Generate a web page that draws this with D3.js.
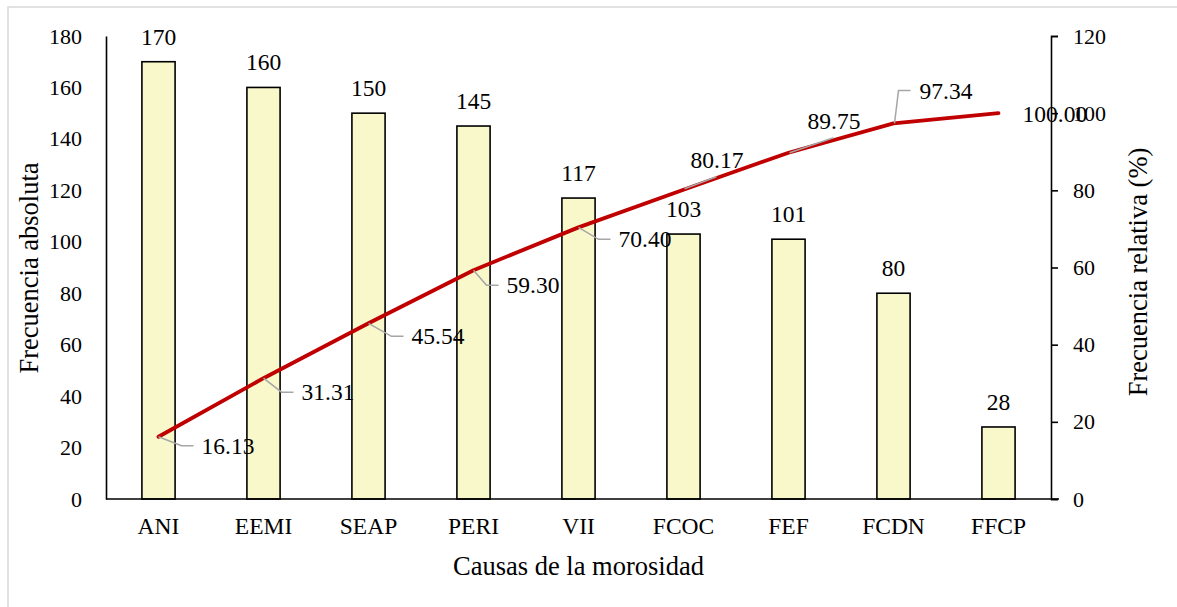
<!DOCTYPE html>
<html>
<head>
<meta charset="utf-8">
<script src="https://cdn.jsdelivr.net/npm/d3@7"></script>
<style>
  body { margin: 0; background: #fff; }
  svg text { font-family: "Liberation Serif", "Times New Roman", serif; fill: #000; }
</style>
</head>
<body>
<svg id="pareto" width="1177" height="607"></svg>
<script>
const causes = ["ANI", "EEMI", "SEAP", "PERI", "VII", "FCOC", "FEF", "FCDN", "FFCP"];
const counts = [170, 160, 150, 145, 117, 103, 101, 80, 28];
const cumPercent = [16.13, 31.31, 45.54, 59.30, 70.40, 80.17, 89.75, 97.34, 100.00];
const leftTicks = [0, 20, 40, 60, 80, 100, 120, 140, 160, 180];
const rightTicks = [0, 20, 40, 60, 80, 100, 120];

// where each cumulative label sits relative to its point (text start, baseline)
const labelOffsets = [
    [43, 17], [38, 22], [43, 21], [33, 23], [40, 20],
    [7, -22], [19, -24], [26, -24], [24, 9]
];

const svg = d3.select("#pareto");
const m = { left: 106, right: 1051, top: 36, bottom: 499 };

// light frame around the chart
svg.append("rect")
    .attr("x", 8).attr("y", 7)
    .attr("width", 1180).attr("height", 620)
    .attr("fill", "none")
    .attr("stroke", "#d9d9d9")
    .attr("stroke-width", 1.5);

const x = d3.scaleBand()
    .domain(causes)
    .range([m.left, m.right])
    .paddingInner(0.684)
    .paddingOuter(0.342);

const yLeft = d3.scaleLinear().domain([0, 180]).range([m.bottom, m.top]);
const yRight = d3.scaleLinear().domain([0, 120]).range([m.bottom, m.top]);

// bars
svg.append("g")
    .selectAll("rect")
    .data(counts)
    .enter().append("rect")
    .attr("x", (d, i) => x(causes[i]))
    .attr("y", d => yLeft(d))
    .attr("width", x.bandwidth())
    .attr("height", d => yLeft(0) - yLeft(d))
    .attr("fill", "#f8f8cb")
    .attr("stroke", "#000")
    .attr("stroke-width", 1.6);

svg.append("g")
    .selectAll("text")
    .data(counts)
    .enter().append("text")
    .attr("x", (d, i) => x(causes[i]) + x.bandwidth() / 2)
    .attr("y", d => yLeft(d) - 17)
    .attr("text-anchor", "middle")
    .style("font-size", "23.5px")
    .text(d => d);

// left axis (line only, no tick marks)
const leftAxis = svg.append("g")
    .attr("transform", `translate(${m.left},0)`)
    .call(d3.axisLeft(yLeft).tickValues(leftTicks).tickSize(0).tickPadding(24));
leftAxis.select(".domain").attr("stroke", "#000").attr("stroke-width", 1.6);
leftAxis.selectAll("text").style("font-size", "22px");

// right axis
const rightAxis = svg.append("g")
    .attr("transform", `translate(${m.right},0)`)
    .call(d3.axisRight(yRight).tickValues(rightTicks).tickSizeInner(7).tickSizeOuter(7).tickPadding(15));
rightAxis.select(".domain").attr("stroke", "#000").attr("stroke-width", 1.6);
rightAxis.selectAll("line").attr("stroke", "#000").attr("stroke-width", 1.6);
rightAxis.selectAll("text").style("font-size", "22px");

// category axis
const xAxis = svg.append("g")
    .attr("transform", `translate(0,${m.bottom})`)
    .call(d3.axisBottom(x).tickSize(0));
xAxis.select(".domain").attr("stroke", "#000").attr("stroke-width", 1.6)
    .attr("d", `M${m.left},0H${m.right + 8}`);
xAxis.selectAll("text")
    .attr("y", 35).attr("dy", null)
    .style("font-size", "23.5px");

// cumulative line
const pts = cumPercent.map((d, i) => [x(causes[i]) + x.bandwidth() / 2, yRight(d)]);

svg.append("path")
    .datum(pts)
    .attr("fill", "none")
    .attr("stroke", "#c00000")
    .attr("stroke-width", 3.8)
    .attr("stroke-linejoin", "round")
    .attr("stroke-linecap", "round")
    .attr("d", d3.line());

// leader lines + labels
const leaders = svg.append("g");
cumPercent.forEach((d, i) => {
    const [px, py] = pts[i];
    const [dx, dy] = labelOffsets[i];
    const tx = px + dx, ty = py + dy;
    let path = null;
    if (dy > 12) {
        path = `M${px},${py}L${tx - 20},${ty - 8}H${tx - 8}`;
    } else if (i === 5) {
        path = `M${px + 1},${py - 1}L${px + 33},${py - 13}`;
    } else if (i === 6) {
        path = `M${px + 1},${py}L${px + 45},${py - 15}`;
    } else if (i === 7) {
        path = `M${px + 1},${py}L${px + 5},${py - 33}H${px + 17}`;
    }
    if (path) {
        leaders.append("path")
            .attr("d", path)
            .attr("fill", "none")
            .attr("stroke", "#a6a6a6")
            .attr("stroke-width", 1.5);
    }
    svg.append("text")
        .attr("x", tx)
        .attr("y", ty)
        .style("font-size", "23.5px")
        .text(d.toFixed(2));
});

// axis titles
svg.append("text")
    .attr("transform", `translate(38,268) rotate(-90)`)
    .attr("text-anchor", "middle")
    .style("font-size", "26.5px")
    .text("Frecuencia absoluta");

svg.append("text")
    .attr("transform", `translate(1147,272) rotate(-90)`)
    .attr("text-anchor", "middle")
    .style("font-size", "26.5px")
    .text("Frecuencia relativa (%)");

svg.append("text")
    .attr("x", (m.left + m.right) / 2)
    .attr("y", 575)
    .attr("text-anchor", "middle")
    .style("font-size", "26.5px")
    .text("Causas de la morosidad");
</script>
</body>
</html>
